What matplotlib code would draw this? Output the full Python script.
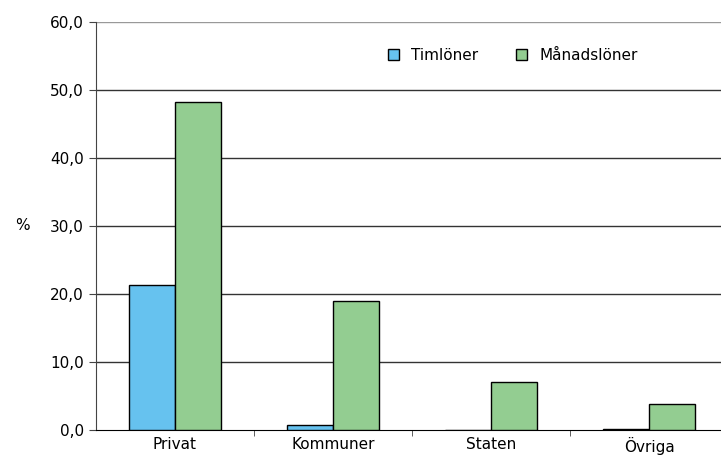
import numpy as np
from matplotlib import pyplot as plt

plt.rcParams['font.family'] = ['Liberation Sans Narrow', 'DejaVu Sans']

kategorier = ['Privat', 'Kommuner', 'Staten', 'Övriga']
timloner = [21.3, 0.7, 0.0, 0.2]
manadsloner = [48.2, 19.0, 7.1, 3.9]
yticks = [0, 10, 20, 30, 40, 50, 60]

fig = plt.figure(figsize=(7.21, 4.69), dpi=100)
ax = fig.add_axes([0.133, 0.083, 0.877, 0.870])

x = np.arange(len(kategorier))
w = 0.29
ax.bar(x - w/2, timloner, w, color='#66c2ef', edgecolor='black', linewidth=1, label='Timlöner', zorder=3)
ax.bar(x + w/2, manadsloner, w, color='#93cd91', edgecolor='black', linewidth=1, label='Månadslöner', zorder=3)

ax.set_xlim(-0.5, len(kategorier) - 0.5)
ax.set_ylim(0, 60)
ax.set_yticks(yticks)
ax.set_yticklabels([f'{v:.1f}'.replace('.', ',') for v in yticks], fontsize=11)
for v in yticks[1:]:
    ax.axhline(v, color='#333333' if v < 60 else '#999999', linewidth=1, zorder=1)

ax.set_xticks(x)
ax.set_xticklabels(kategorier, fontsize=11)
ax.tick_params(axis='x', length=0, pad=5)
ax.set_xticks(np.arange(0.5, len(kategorier) - 0.5), minor=True)
ax.tick_params(axis='x', which='minor', length=4, direction='out', color='#444444')
ax.tick_params(axis='y', length=5, direction='out', color='#444444')

for s in ['top', 'right']:
    ax.spines[s].set_visible(False)
ax.spines['left'].set_color('#444444')
ax.spines['bottom'].set_color('black')

fig.text(0.021, 0.52, '%', fontsize=11, va='center')

ax.legend(loc='upper left', bbox_to_anchor=(0.44, 0.97), ncol=2, frameon=False,
          fontsize=11, handlelength=0.7, handleheight=0.7, columnspacing=2.5, handletextpad=0.8)

fig.savefig('out.png', dpi=100)
